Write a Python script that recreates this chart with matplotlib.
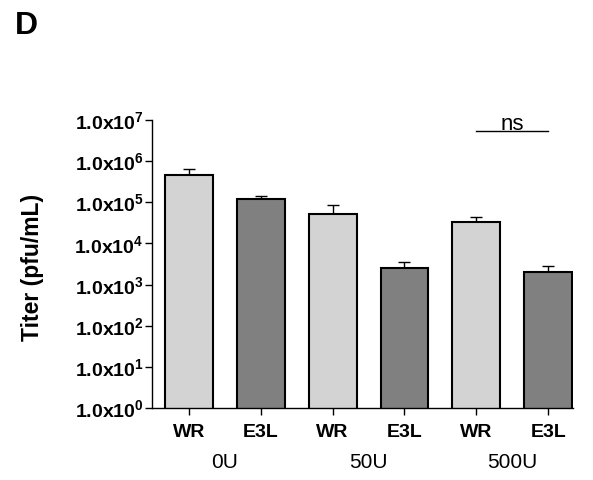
import numpy as np
import matplotlib
matplotlib.use("Agg")
import matplotlib.pyplot as plt

plt.rcParams['font.family'] = ['Liberation Sans', 'DejaVu Sans']
plt.rcParams['mathtext.fontset'] = 'custom'
plt.rcParams['mathtext.rm'] = 'Liberation Sans:bold'
plt.rcParams['mathtext.bf'] = 'Liberation Sans:bold'

# data
strains = ['WR', 'E3L', 'WR', 'E3L', 'WR', 'E3L']
doses = ['0U', '50U', '500U']
titers = [4.6e5, 1.18e5, 5.1e4, 2.6e3, 3.4e4, 2.05e3]
err_top = [6.5e5, 1.4e5, 8.5e4, 3.6e3, 4.5e4, 2.8e3]
bar_colors = ['#d3d3d3', '#808080', '#d3d3d3', '#808080', '#d3d3d3', '#808080']
ytick_exp = [0, 1, 2, 3, 4, 5, 6, 7]

fig = plt.figure(figsize=(5.93, 4.81), dpi=100)
ax = fig.add_axes([0.2563, 0.1497, 0.7097, 0.5987])

x = np.arange(len(titers))
ax.bar(x, titers, width=0.667, color=bar_colors, edgecolor='black', linewidth=1.5, zorder=2)
upper = np.array(err_top) - np.array(titers)
ax.errorbar(x, titers, yerr=[np.zeros_like(upper), upper], fmt='none',
            ecolor='black', elinewidth=1, capsize=4.5, capthick=1, zorder=1)

ax.set_yscale('log')
ax.set_ylim(1, 1e7)
ax.set_xlim(-0.51, 5.34)
ax.set_yticks([10.0 ** e for e in ytick_exp])
ax.set_yticklabels([r'1.0x10$^{%d}$' % e for e in ytick_exp], fontsize=14, fontweight='bold')
ax.minorticks_off()
ax.set_xticks(x)
ax.set_xticklabels(strains, fontsize=14, fontweight='bold')
ax.tick_params(direction='out', length=5, width=1, pad=1)
ax.tick_params(axis='x', pad=5.5)

for s in ['top', 'right']:
    ax.spines[s].set_visible(False)
for s in ['left', 'bottom']:
    ax.spines[s].set_linewidth(1)

ax.set_ylabel('Titer (pfu/mL)', fontsize=16.5, fontweight='bold')
ax.yaxis.set_label_coords(-0.257, 0.49)

# dose group labels under the strain labels
for i, d in enumerate(doses):
    ax.text(2 * i + 0.5, -0.1875, d, transform=ax.get_xaxis_transform(),
            ha='center', va='center', fontsize=15)

# ns bracket
ax.plot([4, 5], [5.3e6, 5.3e6], color='black', linewidth=1)
ax.text(4.5, 6.0e6, 'ns', ha='center', va='baseline', fontsize=16)

fig.text(0.025, 0.945, 'D', fontsize=23, fontweight='bold', ha='left', va='center')

fig.savefig('out.png', dpi=100)
